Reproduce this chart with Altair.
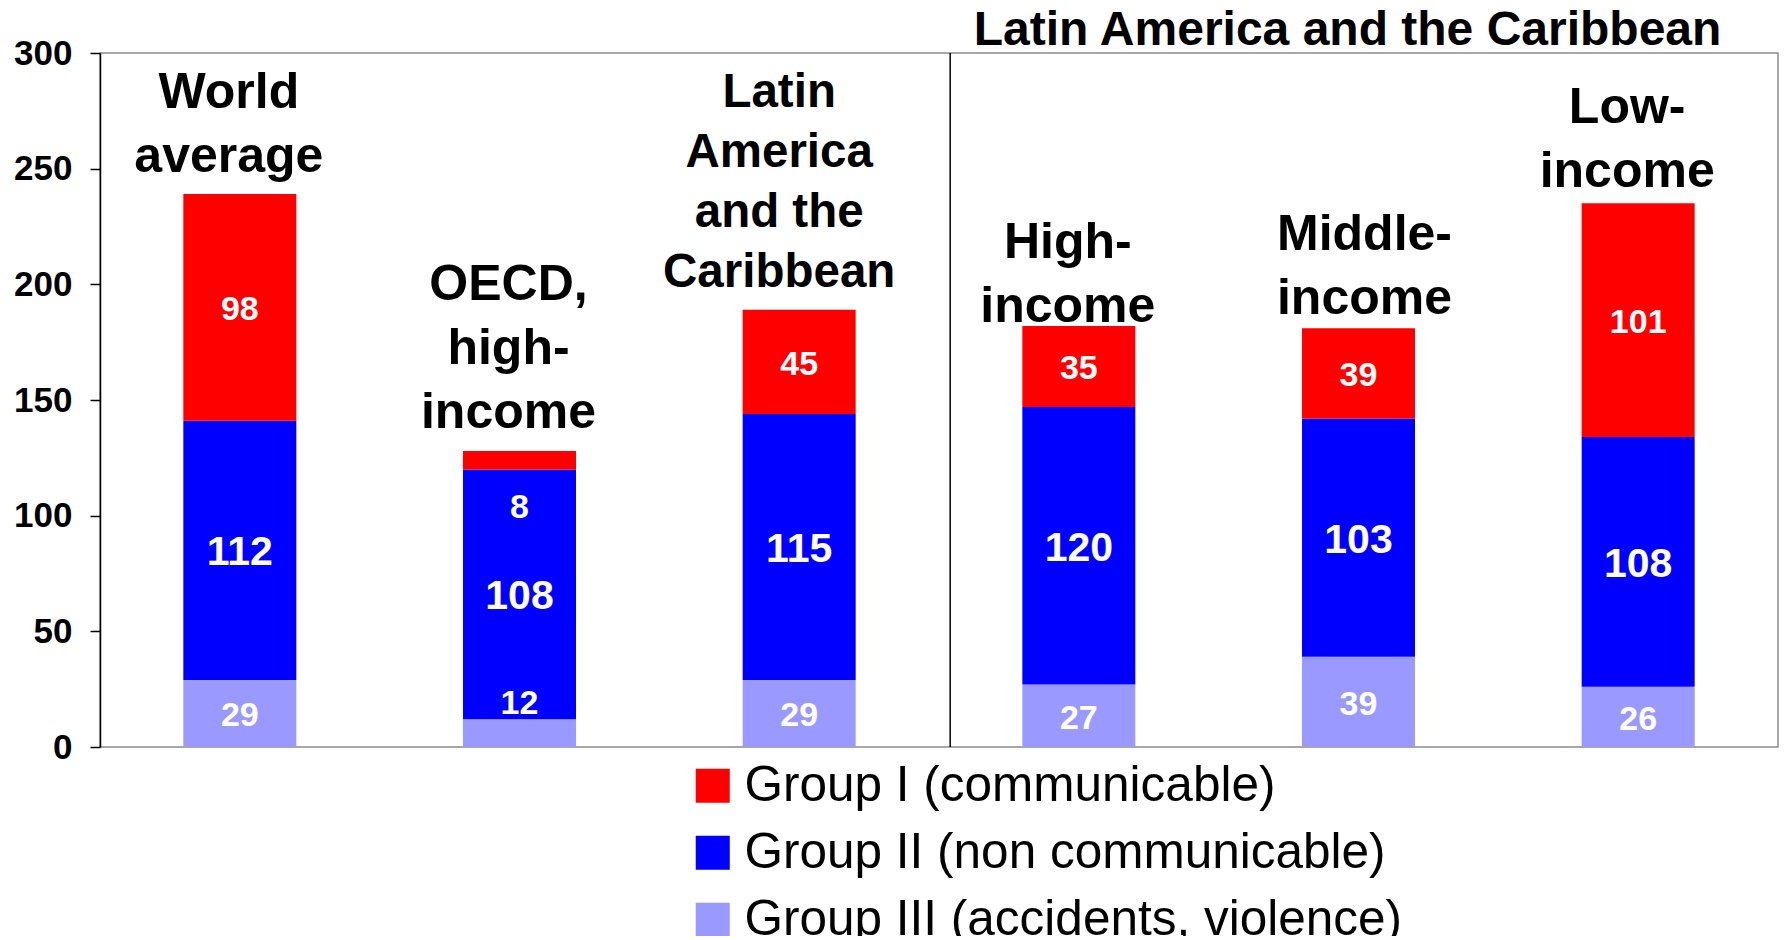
import altair as alt
import pandas as pd

categories = ["World average", "OECD, high-income", "Latin America and the Caribbean",
              "High-income", "Middle-income", "Low-income"]
label_lines = [["World", "average"], ["OECD,", "high-", "income"],
               ["Latin", "America", "and the", "Caribbean"],
               ["High-", "income"], ["Middle-", "income"], ["Low-", "income"]]
groups = ["Group I (communicable)", "Group II (non communicable)", "Group III (accidents, violence)"]
group1 = [98, 8, 45, 35, 39, 101]
group2 = [112, 108, 115, 120, 103, 108]
group3 = [29, 12, 29, 27, 39, 26]
colors = ["#FF0000", "#0000FF", "#9999FF"]
panel_title = "Latin America and the Caribbean"
y_ticks = [0, 50, 100, 150, 200, 250, 300]

FONT = "Liberation Sans, Arial, Helvetica, sans-serif"

# label styling per category: (font size, line height, dx, gap above bar)
label_style = {
    categories[0]: (50, 64, -11, 12),
    categories[1]: (50, 64, -11, 13),
    categories[2]: (47.5, 60, -20, 13),
    categories[3]: (50, 64, -11, -6),
    categories[4]: (50, 64, 6, 4),
    categories[5]: (50, 64, -11, 6),
}

# stacked segments, bottom-up: Group III, Group II, Group I
seg_rows = []
for i, cat in enumerate(categories):
    base = 0
    for g, vals in ((2, group3), (1, group2), (0, group1)):
        v = vals[i]
        seg_rows.append({"cat": cat, "group": groups[g], "gidx": g, "value": v,
                         "y0": base, "y1": base + v, "mid": base + v / 2})
        base += v
seg = pd.DataFrame(seg_rows)

lab = pd.DataFrame({
    "cat": categories,
    "text": ["\n".join(l) for l in label_lines],
    "nlines": [len(l) for l in label_lines],
    "total": [a + b + c for a, b, c in zip(group1, group2, group3)],
})

x_scale = alt.Scale(domain=categories, paddingInner=0, paddingOuter=0)
x_enc = alt.X("cat:N", scale=x_scale, axis=None)
y_scale = alt.Scale(domain=[y_ticks[0], y_ticks[-1]], nice=False)

bars = alt.Chart(seg).mark_bar(size=113).encode(
    x=x_enc,
    y=alt.Y("y0:Q", scale=y_scale,
            axis=alt.Axis(values=y_ticks, title=None, grid=False, labelFont=FONT,
                          labelFontSize=35, labelFontWeight="bold", labelColor="black",
                          labelPadding=18, tickSize=10, tickColor="black", tickWidth=1.5,
                          domainColor="black", domainWidth=1.5, zindex=1)),
    y2="y1:Q",
    color=alt.Color("group:N", scale=alt.Scale(domain=groups, range=colors),
                    legend=alt.Legend(title=None, orient="none", legendX=588, legendY=708,
                                      direction="vertical", symbolType="square",
                                      symbolSize=1156, symbolStrokeWidth=0, symbolOpacity=1,
                                      labelFont=FONT, labelFontSize=49.5, labelColor="black",
                                      labelLimit=2000, labelOffset=7, rowPadding=16,
                                      padding=0)),
)

txt = dict(font=FONT, fontWeight="bold", color="white", baseline="middle", align="center")

val_other = alt.Chart(seg).transform_filter(
    (alt.datum.value >= 15) & (alt.datum.gidx != 1)
).mark_text(fontSize=34, dy=3, **txt).encode(
    x=x_enc, y=alt.Y("mid:Q", scale=y_scale), text="value:Q")

val_mid = alt.Chart(seg).transform_filter(
    (alt.datum.value >= 15) & (alt.datum.gidx == 1)
).mark_text(fontSize=41, dy=3, **txt).encode(
    x=x_enc, y=alt.Y("mid:Q", scale=y_scale), text="value:Q")

val_small_top = alt.Chart(seg).transform_filter(
    (alt.datum.value < 15) & (alt.datum.gidx == 0)
).mark_text(fontSize=34, dy=39, **txt).encode(
    x=x_enc, y=alt.Y("y0:Q", scale=y_scale), text="value:Q")

val_small_bot = alt.Chart(seg).transform_filter(
    (alt.datum.value < 15) & (alt.datum.gidx == 2)
).mark_text(fontSize=34, dy=-15, **txt).encode(
    x=x_enc, y=alt.Y("y1:Q", scale=y_scale), text="value:Q")

cat_layers = []
for cat, nl in zip(categories, [len(l) for l in label_lines]):
    size, lh, dx, gap = label_style[cat]
    cat_layers.append(
        alt.Chart(lab).transform_filter(alt.datum.cat == cat).mark_text(
            font=FONT, fontWeight="bold", fontSize=size, lineHeight=lh, lineBreak="\n",
            baseline="bottom", align="center", color="black", dx=dx,
            dy=-gap - (nl - 1) * lh,
        ).encode(x=x_enc, y=alt.Y("total:Q", scale=y_scale), text="text:N")
    )

divider = alt.Chart(pd.DataFrame({"cat": [categories[3]], "lo": [y_ticks[0]], "hi": [y_ticks[-1]]})
                    ).mark_rule(color="black", strokeWidth=1.5).encode(
    x=alt.X("cat:N", scale=x_scale, axis=None, bandPosition=0.04),
    y=alt.Y("lo:Q", scale=y_scale), y2="hi:Q")

title_txt = alt.Chart(pd.DataFrame({"cat": [categories[4]], "text": [panel_title], "top": [y_ticks[-1]]})
                      ).mark_text(font=FONT, fontWeight="bold", fontSize=48, baseline="alphabetic",
                                  align="center", color="black", dx=-11, dy=-8).encode(
    x=x_enc, y=alt.Y("top:Q", scale=y_scale), text="text:N")

chart = alt.layer(
    bars, val_other, val_mid, val_small_top, val_small_bot, *cat_layers, divider, title_txt
).properties(
    width=1678, height=694,
    autosize=alt.AutoSizeParams(type="none"),
    padding={"left": 92, "top": 45, "right": 1, "bottom": 189},
).configure_view(stroke="#8a8a8a", strokeWidth=1.5)

chart.save("out.html", embed_options={"renderer": "svg", "actions": False})
